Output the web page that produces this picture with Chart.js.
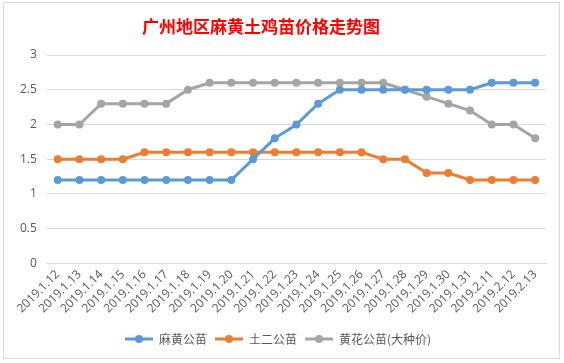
<!DOCTYPE html>
<html>
<head>
<meta charset="utf-8">
<script src="https://cdn.jsdelivr.net/npm/chart.js@4.4.1/dist/chart.umd.min.js"></script>
<style>
    html, body { margin: 0; padding: 0; background: #fff; }
    #box {
        position: absolute; left: 3px; top: 2px; width: 557px; height: 357px;
        border: 1px solid #d9d9d9; box-sizing: border-box;
    }
    #title {
        position: absolute; left: 140px; top: 13px; width: 242px; text-align: center;
        font-family: "Noto Sans CJK SC", sans-serif; font-weight: bold; font-size: 17px;
        color: #ff0000; white-space: nowrap;
    }
    #wrap { position: absolute; left: 0; top: 0; width: 564px; height: 363px; }
</style>
</head>
<body>
<div id="box"></div>
<div id="wrap"><canvas id="chart"></canvas></div>
<div id="title">广州地区麻黄土鸡苗价格走势图</div>
<script>
// categories (dates)
const dates = [
    '2019.1.12', '2019.1.13', '2019.1.14', '2019.1.15', '2019.1.16', '2019.1.17',
    '2019.1.18', '2019.1.19', '2019.1.20', '2019.1.21', '2019.1.22', '2019.1.23',
    '2019.1.24', '2019.1.25', '2019.1.26', '2019.1.27', '2019.1.28', '2019.1.29',
    '2019.1.30', '2019.1.31', '2019.2.11', '2019.2.12', '2019.2.13'
];
const seriesNames = ['麻黄公苗', '土二公苗', '黄花公苗(大种价)'];
const mahuang = [1.2, 1.2, 1.2, 1.2, 1.2, 1.2, 1.2, 1.2, 1.2, 1.5, 1.8, 2.0, 2.3, 2.5, 2.5, 2.5, 2.5, 2.5, 2.5, 2.5, 2.6, 2.6, 2.6];
const tuer = [1.5, 1.5, 1.5, 1.5, 1.6, 1.6, 1.6, 1.6, 1.6, 1.6, 1.6, 1.6, 1.6, 1.6, 1.6, 1.5, 1.5, 1.3, 1.3, 1.2, 1.2, 1.2, 1.2];
const huanghua = [2.0, 2.0, 2.3, 2.3, 2.3, 2.3, 2.5, 2.6, 2.6, 2.6, 2.6, 2.6, 2.6, 2.6, 2.6, 2.6, 2.5, 2.4, 2.3, 2.2, 2.0, 2.0, 1.8];
const colors = ['#5b9bd5', '#ed7d31', '#a5a5a5'];

// legend marker: short line with a dot, like Excel
function makeMarker(color) {
    const c = document.createElement('canvas');
    c.width = 28; c.height = 10;
    const g = c.getContext('2d');
    g.strokeStyle = color;
    g.lineWidth = 3;
    g.beginPath(); g.moveTo(0, 5); g.lineTo(28, 5); g.stroke();
    g.fillStyle = color;
    g.beginPath(); g.arc(14, 5, 4, 0, Math.PI * 2); g.fill();
    return c;
}
const markers = colors.map(makeMarker);

function makeSet(label, data, color) {
    return {
        label: label,
        data: data,
        borderColor: color,
        backgroundColor: color,
        borderWidth: 3,
        pointRadius: 4,
        pointBorderWidth: 0,
        pointHoverRadius: 5,
        tension: 0
    };
}

const tickFont = { family: '"Open Sans", "Noto Sans", sans-serif', size: 12 };

new Chart(document.getElementById('chart'), {
    type: 'line',
    data: {
        labels: dates,
        datasets: [
            makeSet(seriesNames[0], mahuang, colors[0]),
            makeSet(seriesNames[1], tuer, colors[1]),
            makeSet(seriesNames[2], huanghua, colors[2])
        ]
    },
    options: {
        responsive: true,
        maintainAspectRatio: false,
        animation: false,
        layout: {
            padding: { top: 55, left: 10, right: 18, bottom: 8 }
        },
        scales: {
            x: {
                offset: true,
                grid: { display: false, drawTicks: false },
                border: { display: true, color: '#d9d9d9' },
                ticks: {
                    color: '#595959',
                    font: tickFont,
                    maxRotation: 45,
                    minRotation: 45,
                    autoSkip: false,
                    padding: 4
                },
                afterFit: (scale) => { scale.height += 5; } // room between labels and legend
            },
            y: {
                min: 0,
                max: 3,
                grid: { color: '#d9d9d9', drawTicks: false },
                border: { display: false },
                ticks: {
                    stepSize: 0.5,
                    color: '#595959',
                    font: tickFont,
                    padding: 10,
                    callback: (v) => String(v)
                }
            }
        },
        plugins: {
            title: { display: false },
            tooltip: { enabled: true },
            legend: {
                position: 'bottom',
                labels: {
                    usePointStyle: true,
                    pointStyleWidth: 28,
                    color: '#595959',
                    font: { family: '"Noto Sans CJK SC", sans-serif', size: 12 },
                    padding: 8,
                    generateLabels: function (chart) {
                        const items = Chart.defaults.plugins.legend.labels.generateLabels(chart);
                        items.forEach((it, i) => { it.pointStyle = markers[i]; });
                        return items;
                    }
                }
            }
        }
    }
});
</script>
</body>
</html>
